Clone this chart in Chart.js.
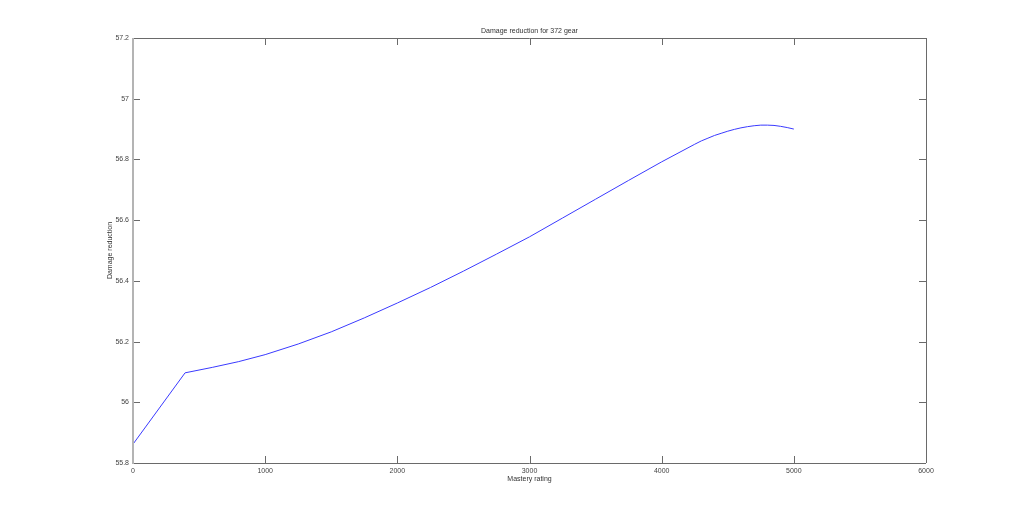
<!DOCTYPE html>
<html>
<head>
<meta charset="utf-8">
<script src="https://cdn.jsdelivr.net/npm/chart.js@4.4.0/dist/chart.umd.min.js"></script>
<style>
  html, body { margin: 0; padding: 0; background: #fff; }
  #wrap { width: 1022px; height: 521px; }
</style>
</head>
<body>
<div id="wrap"><canvas id="chart" width="1022" height="521"></canvas></div>
<script>
const masteryRating = [0, 394, 600, 800, 1000, 1250, 1500, 1750, 2000, 2250, 2500, 2750,
  3000, 3250, 3500, 3750, 4000, 4250, 4300, 4350, 4400, 4450, 4500, 4550, 4600, 4650,
  4700, 4750, 4800, 4850, 4900, 4950, 5000];
const damageReduction = [55.862, 56.097, 56.115, 56.134, 56.157, 56.192, 56.232, 56.278,
  56.327, 56.378, 56.432, 56.488, 56.545, 56.607, 56.669, 56.731, 56.792, 56.850,
  56.861, 56.870, 56.879, 56.886, 56.893, 56.899, 56.904, 56.908, 56.911, 56.913,
  56.913, 56.912, 56.909, 56.905, 56.900];
const xTicks = [0, 1000, 2000, 3000, 4000, 5000, 6000];
const yTicks = [55.8, 56, 56.2, 56.4, 56.6, 56.8, 57, 57.2];

const titleText = "Damage reduction for 372 gear";
const xLabel = "Mastery rating";
const yLabel = "Damage reduction";

const font = "Liberation Sans, Arial, sans-serif";

// matlab style box with inward ticks + labels
const boxPlugin = {
  id: "box",
  afterDraw(chart) {
    const { ctx, chartArea: a, scales } = chart;
    ctx.save();
    ctx.strokeStyle = "#6a6a6a";
    ctx.lineWidth = 1;
    ctx.beginPath();
    ctx.moveTo(a.left, a.top + 0.5);
    ctx.lineTo(a.right, a.top + 0.5);
    ctx.moveTo(a.right + 0.5, a.top);
    ctx.lineTo(a.right + 0.5, a.bottom);
    ctx.moveTo(a.left, a.bottom + 0.5);
    ctx.lineTo(a.right, a.bottom + 0.5);
    const t = 7;
    xTicks.forEach(v => {
      const x = Math.round(scales.x.getPixelForValue(v)) + 0.5;
      ctx.moveTo(x, a.bottom);
      ctx.lineTo(x, a.bottom - t);
      ctx.moveTo(x, a.top);
      ctx.lineTo(x, a.top + t);
    });
    yTicks.forEach(v => {
      const y = Math.round(scales.y.getPixelForValue(v)) + 0.5;
      ctx.moveTo(a.left, y);
      ctx.lineTo(a.left + t, y);
      ctx.moveTo(a.right, y);
      ctx.lineTo(a.right - t, y);
    });
    ctx.stroke();
    ctx.strokeStyle = "#b4b4b4";
    ctx.lineWidth = 2;
    ctx.beginPath();
    ctx.moveTo(a.left, a.top);
    ctx.lineTo(a.left, a.bottom + 1);
    ctx.stroke();

    ctx.fillStyle = "#333";
    ctx.font = "7px " + font;
    ctx.textAlign = "center";
    ctx.textBaseline = "middle";
    const cx = (a.left + a.right) / 2;
    ctx.fillText(titleText, cx, a.top - 7);
    ctx.fillText(xLabel, cx, a.bottom + 16);
    ctx.translate(a.left - 23, (a.top + a.bottom) / 2);
    ctx.rotate(-Math.PI / 2);
    ctx.fillText(yLabel, 0, 0);
    ctx.restore();
  }
};

new Chart(document.getElementById("chart"), {
  type: "line",
  data: {
    datasets: [{
      data: masteryRating.map((x, i) => ({ x, y: damageReduction[i] })),
      borderColor: "#3a3aff",
      borderWidth: 1,
      pointRadius: 0,
      tension: 0,
      fill: false
    }]
  },
  options: {
    responsive: false,
    animation: false,
    layout: { padding: { left: 0, top: 38, right: 96, bottom: 0 } },
    plugins: { legend: { display: false }, tooltip: { enabled: false } },
    scales: {
      x: {
        type: "linear",
        min: 0, max: 6000,
        afterBuildTicks: s => { s.ticks = xTicks.map(v => ({ value: v })); },
        afterFit: s => { s.height = 58; },
        grid: { display: false, drawTicks: false },
        border: { display: false },
        ticks: { color: "#444", font: { family: font, size: 7 }, padding: 4, maxRotation: 0,
          callback: v => String(v) }
      },
      y: {
        type: "linear",
        min: 55.8, max: 57.2,
        afterBuildTicks: s => { s.ticks = yTicks.map(v => ({ value: v })); },
        afterFit: s => { s.width = 133; },
        grid: { display: false, drawTicks: false },
        border: { display: false },
        ticks: { color: "#444", font: { family: font, size: 7 }, padding: 4,
          callback: v => String(Number(v.toFixed(1))) }
      }
    }
  },
  plugins: [boxPlugin]
});
</script>
</body>
</html>
